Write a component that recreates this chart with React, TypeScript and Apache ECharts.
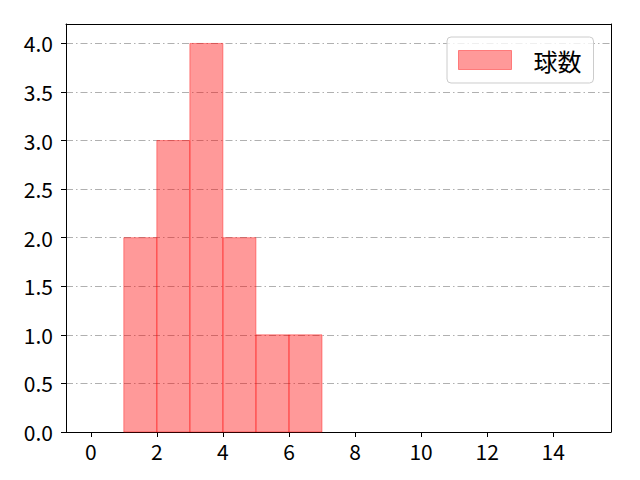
import { useEffect, useRef } from "react";
import * as echarts from "echarts";

// ヒストグラムのビン境界と度数
const binEdges = [0, 1, 2, 3, 4, 5, 6, 7, 8, 9, 10, 11, 12, 13, 14, 15];
const counts = [0, 2, 3, 4, 2, 1, 1, 0, 0, 0, 0, 0, 0, 0, 0];
const seriesName = "球数";

const font = "'Noto Sans CJK JP', 'Noto Sans', sans-serif";
const barFill = "rgba(255, 0, 0, 0.4)";
const barEdge = "rgba(255, 0, 0, 0.4)";

export default function App() {
  const chartRef = useRef<HTMLDivElement>(null);

  useEffect(() => {
    if (!chartRef.current) return;
    const chart = echarts.init(chartRef.current, undefined, { renderer: "svg" });

    const data = counts.map((c, i) => [binEdges[i], binEdges[i + 1], c]);

    const frameAxis = {
      show: true,
      axisLine: { show: true, onZero: false, lineStyle: { color: "#000", width: 1 } },
      axisTick: { show: false },
      axisLabel: { show: false },
      splitLine: { show: false },
    };

    const option: echarts.EChartsOption = {
      animation: false,
      backgroundColor: "#fff",
      grid: { left: 66, right: 29, top: 24, bottom: 48 },
      legend: {
        data: [
          {
            name: seriesName,
            icon: "rect",
            itemStyle: { color: barFill, borderColor: barEdge, borderWidth: 1 },
          },
        ],
        left: 447,
        top: 37,
        itemWidth: 53,
        itemHeight: 19,
        padding: [11, 12, 11, 11],
        backgroundColor: "rgba(255,255,255,0.8)",
        borderColor: "#cccccc",
        borderWidth: 1,
        borderRadius: 4,
        textStyle: {
          fontSize: 24,
          fontFamily: font,
          color: "#000",
          padding: [0, 0, 0, 17],
        },
      },
      xAxis: [
        {
          type: "value",
          min: -0.75,
          max: 15.75,
          splitNumber: 8,
          axisLine: { show: true, onZero: false, lineStyle: { color: "#000", width: 1 } },
          axisTick: { show: true, length: 5, lineStyle: { color: "#000" } },
          axisLabel: {
            fontSize: 21,
            fontFamily: font,
            color: "#000",
            margin: 8,
            showMinLabel: false,
            showMaxLabel: false,
            formatter: (v: number) => (Number.isInteger(v) ? String(v) : ""),
          },
          splitLine: { show: false },
        },
        { ...frameAxis, type: "value", position: "top", min: -0.75, max: 15.75 } as any,
      ],
      yAxis: [
        {
          type: "value",
          min: 0,
          max: 4.2,
          interval: 0.5,
          axisLine: { show: true, onZero: false, lineStyle: { color: "#000", width: 1 } },
          axisTick: { show: true, length: 5, lineStyle: { color: "#000" } },
          axisLabel: {
            fontSize: 21,
            fontFamily: font,
            color: "#000",
            margin: 13,
            showMaxLabel: false,
            formatter: (v: number) => v.toFixed(1),
          },
          splitLine: {
            show: true,
            lineStyle: { color: "#b0b0b0", width: 1, type: [7, 3, 1.5, 3] },
          },
        },
        { ...frameAxis, type: "value", position: "right", min: 0, max: 4.2 } as any,
      ],
      series: [
        {
          name: seriesName,
          type: "custom",
          xAxisIndex: 0,
          yAxisIndex: 0,
          data,
          itemStyle: { color: barFill },
          renderItem: (_params: any, api: any) => {
            if (!api.value(2)) return null;
            const p0 = api.coord([api.value(0), 0]);
            const p1 = api.coord([api.value(1), api.value(2)]);
            return {
              type: "rect",
              shape: {
                x: p0[0],
                y: p1[1],
                width: p1[0] - p0[0],
                height: p0[1] - p1[1],
              },
              style: { fill: barFill, stroke: barEdge, lineWidth: 1 },
            };
          },
        },
      ],
    };

    chart.setOption(option);
    return () => chart.dispose();
  }, []);

  return (
    <div
      ref={chartRef}
      style={{ position: "fixed", left: 0, top: 0, width: 640, height: 480 }}
    />
  );
}
